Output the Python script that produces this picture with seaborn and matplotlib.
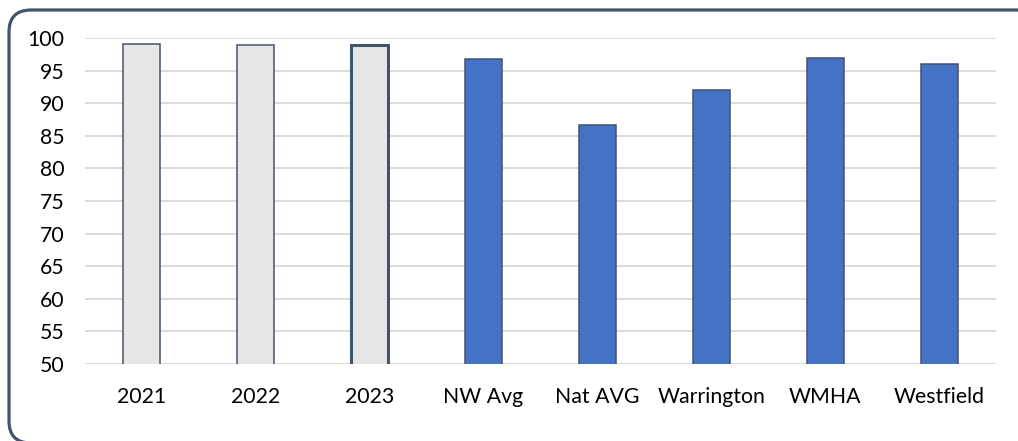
import matplotlib
matplotlib.use("Agg")
import matplotlib.pyplot as plt
import seaborn as sns
import pandas as pd
from matplotlib.patches import FancyBboxPatch
from matplotlib.transforms import IdentityTransform

categories = ["2021", "2022", "2023", "NW Avg", "Nat AVG", "Warrington", "WMHA", "Westfield"]
values = [99.1, 98.9, 98.9, 96.8, 86.7, 92.0, 97.0, 96.0]
yticks = [50, 55, 60, 65, 70, 75, 80, 85, 90, 95, 100]

grey = "#E7E6E6"
blue = "#4472C4"
edge = "#44546A"
colors = [grey, grey, grey, blue, blue, blue, blue, blue]
edge_widths = [1.1, 1.1, 2.2, 1.1, 1.1, 1.1, 1.1, 1.1]

sns.set_theme(style="white")
plt.rcParams["font.family"] = ["Lato", "DejaVu Sans"]

W, H = 1018, 441
fig = plt.figure(figsize=(W / 100, H / 100), dpi=100)
ax = fig.add_axes([85 / W, 1 - 364 / H, (996 - 85) / W, (364 - 38) / H])

df = pd.DataFrame({"cat": categories, "val": values})
sns.barplot(data=df, x="cat", y="val", hue="cat", palette=dict(zip(categories, colors)),
            legend=False, width=0.325, saturation=1, edgecolor=edge, linewidth=1.1,
            ax=ax, zorder=3)
for p, lw in zip(ax.patches, edge_widths):
    p.set_linewidth(lw)

ax.set_ylim(50, 100)
ax.set_xlim(-0.5, len(categories) - 0.5)
ax.set_yticks(yticks)
ax.yaxis.grid(True, color="#D9D9D9", linewidth=1.3, zorder=0)
ax.set_axisbelow(True)
for s in ax.spines.values():
    s.set_visible(False)
ax.set_xlabel("")
ax.set_ylabel("")
ax.tick_params(axis="y", length=0, pad=15, labelsize=15.3, labelcolor="#000000")
ax.tick_params(axis="x", length=0, pad=16.5, labelsize=15.3, labelcolor="#000000")

frame = FancyBboxPatch((9, -2), 1040 - 9, 433, boxstyle="round,pad=0,rounding_size=22",
                       transform=IdentityTransform(), facecolor="none", edgecolor=edge,
                       linewidth=2.3, clip_on=False)
fig.patches.append(frame)

fig.savefig("out.png", dpi=100)
